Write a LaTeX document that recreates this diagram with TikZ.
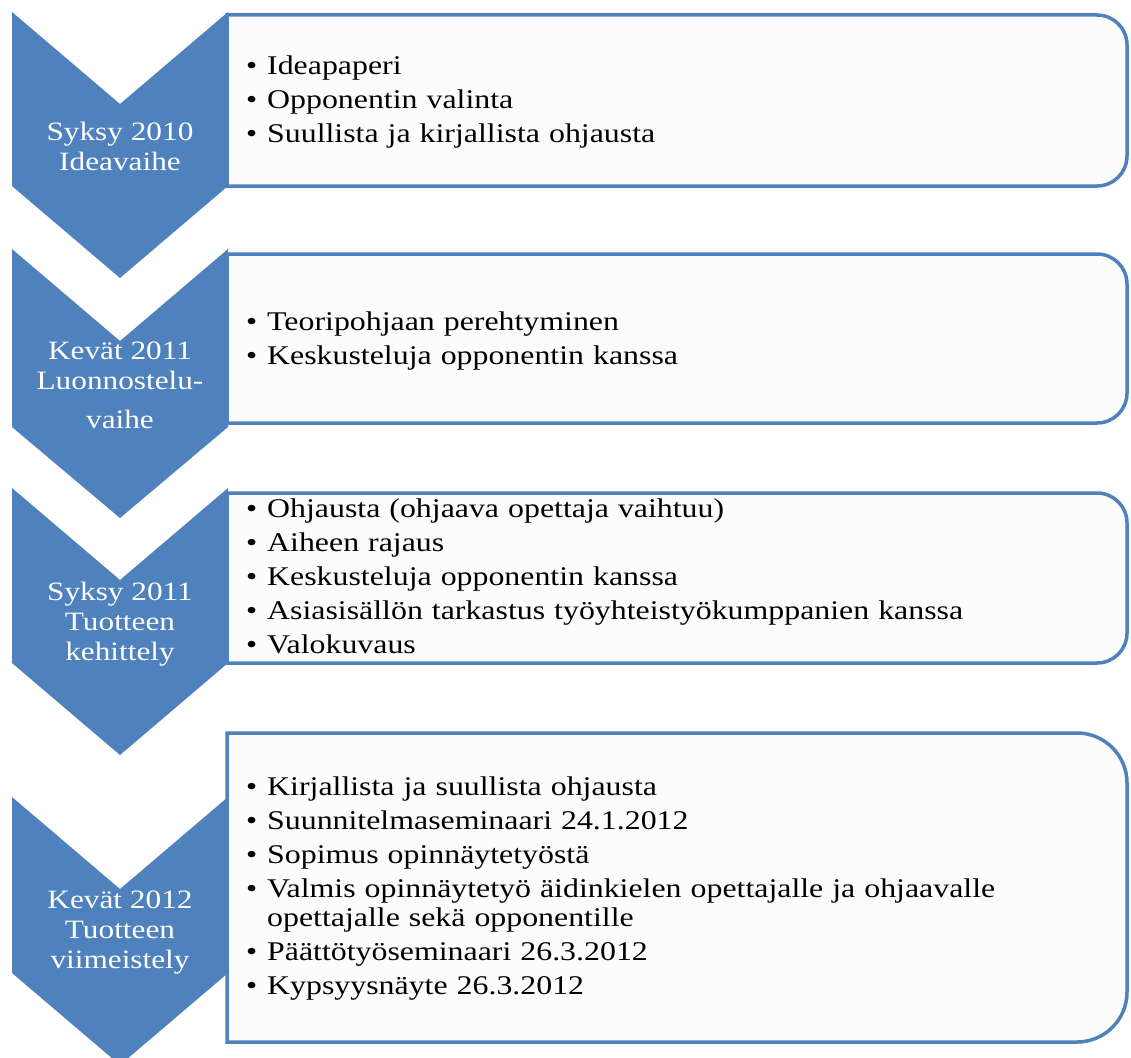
\documentclass[tikz,border=0pt]{standalone}
\usepackage{fontspec}
\setmainfont{Liberation Serif}[FakeStretch=1.18]
\definecolor{cblue}{RGB}{79,129,189}
\definecolor{boxfill}{RGB}{252,252,252}
\newcommand\bitem[1]{\par\noindent\hangindent=21pt\hangafter=1\makebox[21pt][l]{•}#1}
\newcommand\lbrk{\hfil\break}
\tikzset{
  chevron/.style={fill=cblue, draw=none},
  roundbox/.style={draw=cblue, line width=3.5pt, fill=boxfill},
  chevtext/.style={text=white, align=center, inner sep=0pt, font=\fontsize{26.5}{30}\selectfont},
  itemtext/.style={text=black, text width=860pt, align=left, inner sep=0pt, anchor=west,
    font=\fontsize{27}{29}\selectfont\setlength{\parskip}{5pt}}
}
\begin{document}
\begin{tikzpicture}[x=1pt,y=-1pt]
\useasboundingbox (0,0) rectangle (1131,1057);
\clip (0,0) rectangle (1131,1057);
\fill[white] (0,0) rectangle (1131,1057);
% chevrons
\fill[chevron] (12,12) -- (120,104) -- (228,12) -- (228,186) -- (120,278) -- (12,186) -- cycle;
\fill[chevron] (12,249) -- (120,341) -- (228,249) -- (228,427) -- (120,518) -- (12,427) -- cycle;
\fill[chevron] (12,488) -- (120,580) -- (228,488) -- (228,663) -- (120,755) -- (12,663) -- cycle;
\fill[chevron] (12,797) -- (120,889) -- (228,797) -- (228,973) -- (120,1065) -- (12,973) -- cycle;
% boxes (square left side, rounded right side)
\draw[roundbox] (227,15) -- (1097,15) .. controls (1113.6,15) and (1127,28.4) .. (1127,45)
  -- (1127,156) .. controls (1127,172.6) and (1113.6,186) .. (1097,186) -- (227,186) -- cycle;
\draw[roundbox] (227,254) -- (1097,254) .. controls (1113.6,254) and (1127,267.4) .. (1127,284)
  -- (1127,393) .. controls (1127,409.6) and (1113.6,423) .. (1097,423) -- (227,423) -- cycle;
\draw[roundbox] (227,493) -- (1097,493) .. controls (1113.6,493) and (1127,506.4) .. (1127,523)
  -- (1127,633) .. controls (1127,649.6) and (1113.6,663) .. (1097,663) -- (227,663) -- cycle;
\draw[roundbox] (227,733) -- (1077,733) .. controls (1104.6,733) and (1127,755.4) .. (1127,783)
  -- (1127,992) .. controls (1127,1019.6) and (1104.6,1042) .. (1077,1042) -- (227,1042) -- cycle;
% chevron labels
\node[chevtext] (c1) at (120,146) {Syksy 2010\\Ideavaihe};
\node[chevtext] (c2) at (120,385) {Kevät 2011\\Luonnostelu-\\[9pt]vaihe};
\node[chevtext] (c3) at (120,624) {Syksy 2011\\Tuotteen\\kehittely};
\node[chevtext] (c4) at (120,933) {Kevät 2012\\Tuotteen\\viimeistely};
% box texts
\node[itemtext] (t1) at (246,94) {\bitem{Ideapaperi}\bitem{Opponentin valinta}\bitem{Suullista ja kirjallista ohjausta}};
\node[itemtext] (t2) at (246,333) {\bitem{Teoripohjaan perehtyminen}\bitem{Keskusteluja opponentin kanssa}};
\node[itemtext] (t3) at (246,569) {\bitem{Ohjausta (ohjaava opettaja vaihtuu)}\bitem{Aiheen rajaus}\bitem{Keskusteluja opponentin kanssa}\bitem{Asiasisällön tarkastus työyhteistyökumppanien kanssa}\bitem{Valokuvaus}};
\node[itemtext] (t4) at (246,881) {\bitem{Kirjallista ja suullista ohjausta}\bitem{Suunnitelmaseminaari 24.1.2012}\bitem{Sopimus opinnäytetyöstä}\bitem{Valmis opinnäytetyö äidinkielen opettajalle ja ohjaavalle\lbrk opettajalle sekä opponentille}\bitem{Päättötyöseminaari 26.3.2012}\bitem{Kypsyysnäyte 26.3.2012}};
\end{tikzpicture}
\end{document}
